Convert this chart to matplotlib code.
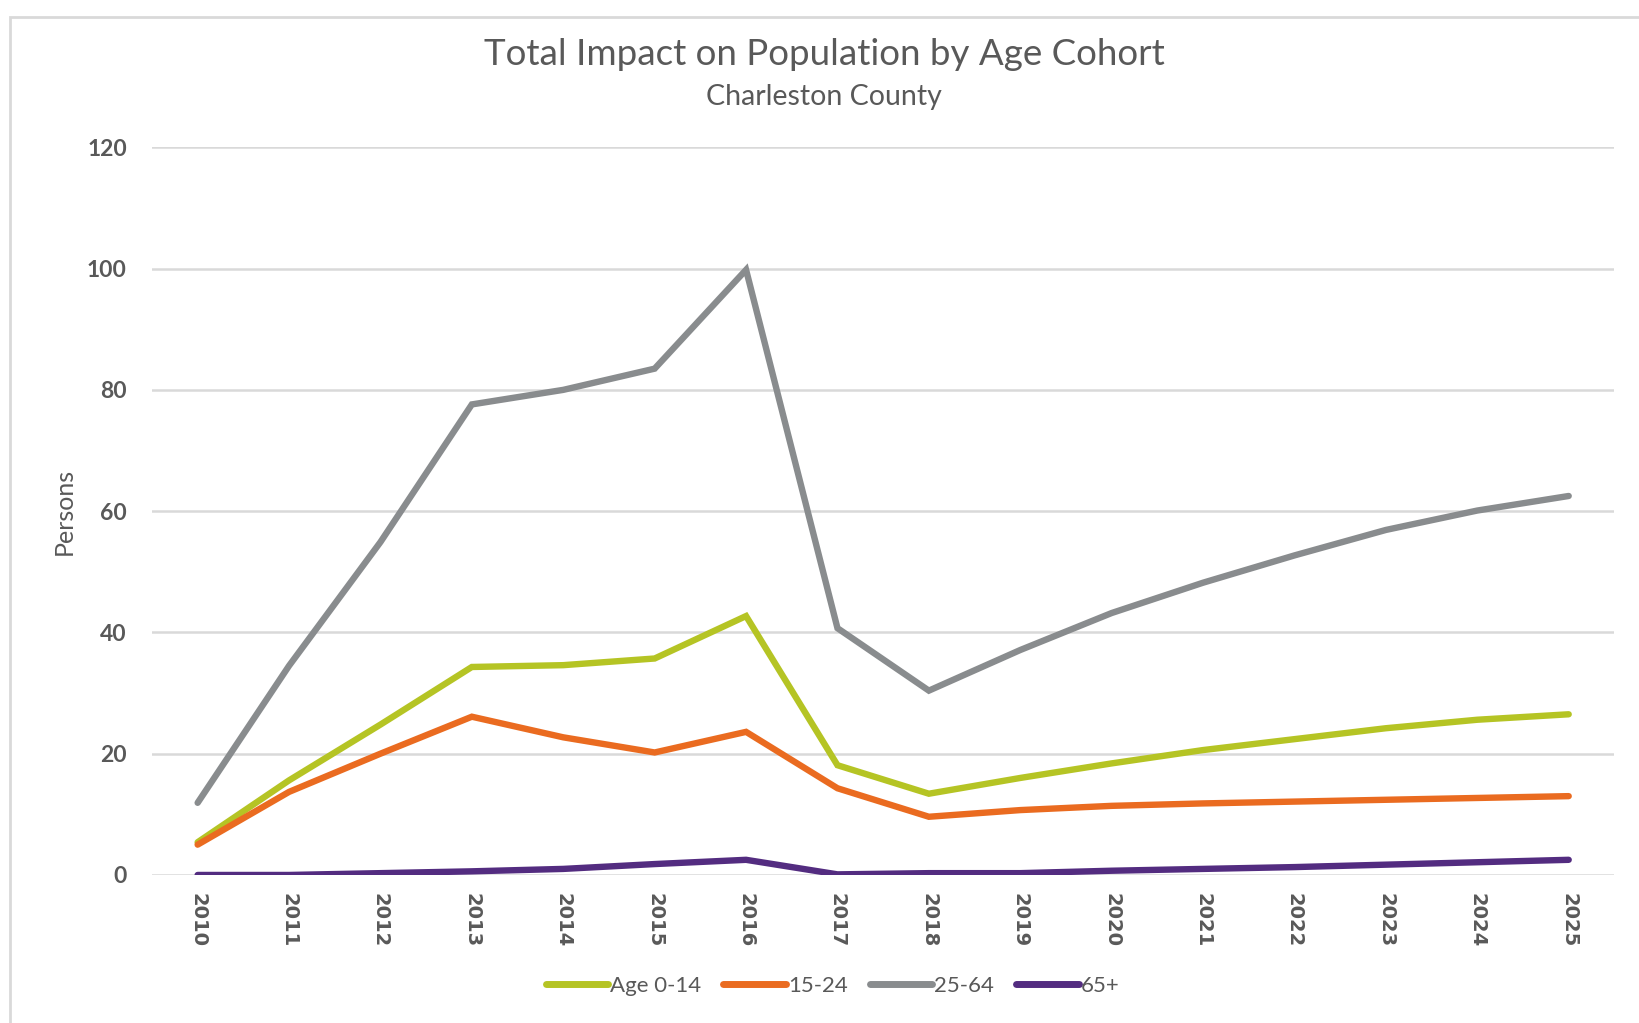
import matplotlib.pyplot as plt
from matplotlib.lines import Line2D
from matplotlib.patches import Rectangle

years = list(range(2010, 2026))
age_0_14 = [5.4, 15.6, 24.8, 34.3, 34.6, 35.7, 42.7, 18.1, 13.4, 16.0, 18.4, 20.6, 22.4, 24.2, 25.6, 26.5]
age_15_24 = [5.0, 13.7, 20.0, 26.1, 22.7, 20.2, 23.6, 14.3, 9.6, 10.7, 11.4, 11.8, 12.1, 12.4, 12.7, 13.0]
age_25_64 = [11.9, 34.5, 54.9, 77.6, 80.0, 83.5, 99.8, 40.7, 30.4, 37.1, 43.2, 48.2, 52.7, 56.9, 60.1, 62.5]
age_65p = [0.0, 0.0, 0.3, 0.6, 1.0, 1.8, 2.5, 0.1, 0.3, 0.3, 0.7, 1.0, 1.3, 1.7, 2.1, 2.5]

series_names = ["Age 0-14", "15-24", "25-64", "65+"]
series_vals = [age_0_14, age_15_24, age_25_64, age_65p]
colors = ["#B5C424", "#EA6B20", "#898C8E", "#532C80"]

text_color = "#595959"

fig = plt.figure(figsize=(16.39, 10.23), dpi=100)
ax = fig.add_axes([0.0927, 0.1447, 0.8923, 0.7113])

# light frame like the screenshot border
fig.patches.append(Rectangle((0.006, -0.01), 1.1, 0.993, transform=fig.transFigure,
                             fill=False, edgecolor="#D9D9D9", linewidth=2))

for name, vals, c in zip(series_names, series_vals, colors):
    ax.plot(years, vals, color=c, linewidth=4.6, solid_capstyle="round",
            solid_joinstyle="miter", label=name, zorder=3)

ax.set_xlim(2009.5, 2025.5)
ax.set_ylim(0, 120)
ax.set_yticks(range(0, 121, 20))
ax.set_xticks(years)
ax.set_xticklabels([str(y) for y in years], rotation=-90, fontsize=14,
                   fontweight="bold", family="DejaVu Sans", color=text_color)
ax.set_yticklabels([str(v) for v in range(0, 121, 20)], fontsize=16.5,
                   fontweight="bold", family="Lato", color=text_color)
ax.tick_params(axis="both", length=0)
ax.tick_params(axis="y", pad=18)
ax.tick_params(axis="x", pad=13)

ax.grid(axis="y", color="#D9D9D9", linewidth=1.8, zorder=0)
for s in ax.spines.values():
    s.set_visible(False)

ax.set_ylabel("Persons", fontsize=18, family="Lato", color=text_color, labelpad=8)

fig.text(0.503, 0.947, "Total Impact on Population by Age Cohort", ha="center", va="center",
         fontsize=26.5, family="Lato", color=text_color)
fig.text(0.503, 0.905, "Charleston County", ha="center", va="center",
         fontsize=20.5, family="Lato", color=text_color)

handles = [Line2D([], [], color=c, linewidth=5, solid_capstyle="round") for c in colors]
fig.legend(handles, series_names, loc="center", bbox_to_anchor=(0.508, 0.036), ncol=4,
           frameon=False, handlelength=2.8, handletextpad=0.1, columnspacing=1.0,
           prop={"family": "Lato", "size": 16}, labelcolor=text_color)

fig.savefig("out.png", dpi=100, facecolor="white")
